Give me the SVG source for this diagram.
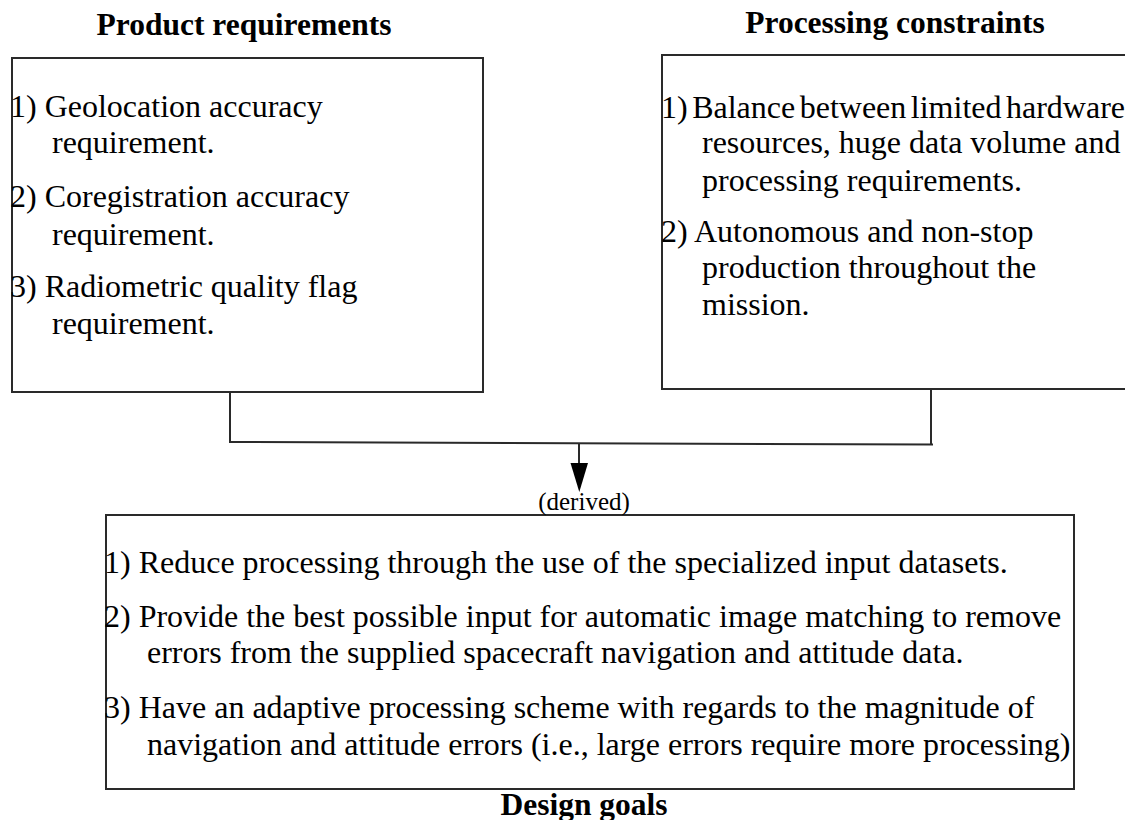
<svg xmlns="http://www.w3.org/2000/svg" width="1125" height="820" viewBox="0 0 1125 820">
  <style>
    .box { fill: #ffffff; stroke: #2a2a2a; stroke-width: 2; }
    .wire { fill: none; stroke: #2a2a2a; stroke-width: 2; }
    .title { font-family: "Liberation Serif", "Times New Roman", serif; font-size: 31.5px; font-weight: bold; fill: #000; text-anchor: middle; }
    .body { font-family: "Liberation Serif", "Times New Roman", serif; font-size: 32px; fill: #000; }
    .tight { word-spacing: -3.5px; }
    .label { font-family: "Liberation Serif", "Times New Roman", serif; font-size: 25px; fill: #000; text-anchor: middle; }
  </style>
  <rect width="1125" height="820" fill="#ffffff"/>

  <!-- Product requirements -->
  <g id="product-requirements">
    <text class="title" x="244" y="35">Product requirements</text>
    <rect class="box" x="12" y="58" width="471" height="334"/>
    <text class="body" x="10" y="117">1) Geolocation accuracy</text>
    <text class="body" x="52" y="153">requirement.</text>
    <text class="body" x="10" y="207">2) Coregistration accuracy</text>
    <text class="body" x="52" y="245">requirement.</text>
    <text class="body" x="10" y="297">3) Radiometric quality flag</text>
    <text class="body" x="52" y="334">requirement.</text>
  </g>

  <!-- Processing constraints -->
  <g id="processing-constraints">
    <text class="title" x="895" y="33">Processing constraints</text>
    <rect class="box" x="662" y="55" width="470" height="334"/>
    <text class="body tight" x="661" y="118">1) Balance between limited hardware</text>
    <text class="body" x="702" y="153">resources, huge data volume and</text>
    <text class="body" x="702" y="191">processing requirements.</text>
    <text class="body" x="661" y="242">2) Autonomous and non-stop</text>
    <text class="body" x="702" y="278">production throughout the</text>
    <text class="body" x="702" y="315">mission.</text>
  </g>

  <!-- Design goals -->
  <g id="design-goals">
    <rect class="box" x="106" y="515" width="968" height="274"/>
    <text class="body" x="104" y="573">1) Reduce processing through the use of the specialized input datasets.</text>
    <text class="body" x="104" y="627">2) Provide the best possible input for automatic image matching to remove</text>
    <text class="body" x="147" y="663">errors from the supplied spacecraft navigation and attitude data.</text>
    <text class="body" x="104" y="718">3) Have an adaptive processing scheme with regards to the magnitude of</text>
    <text class="body" x="147" y="755">navigation and attitude errors (i.e., large errors require more processing)</text>
    <text class="title" x="584" y="815">Design goals</text>
  </g>

  <!-- Connectors -->
  <g id="connectors">
    <path class="wire" d="M230,393 V442 L933,444.5"/>
    <path class="wire" d="M931,390 V445"/>
    <path class="wire" d="M579,443 V464"/>
    <polygon points="570.5,463 588,463 579.3,492" fill="#000"/>
    <text class="label" x="584" y="510">(derived)</text>
  </g>
</svg>
